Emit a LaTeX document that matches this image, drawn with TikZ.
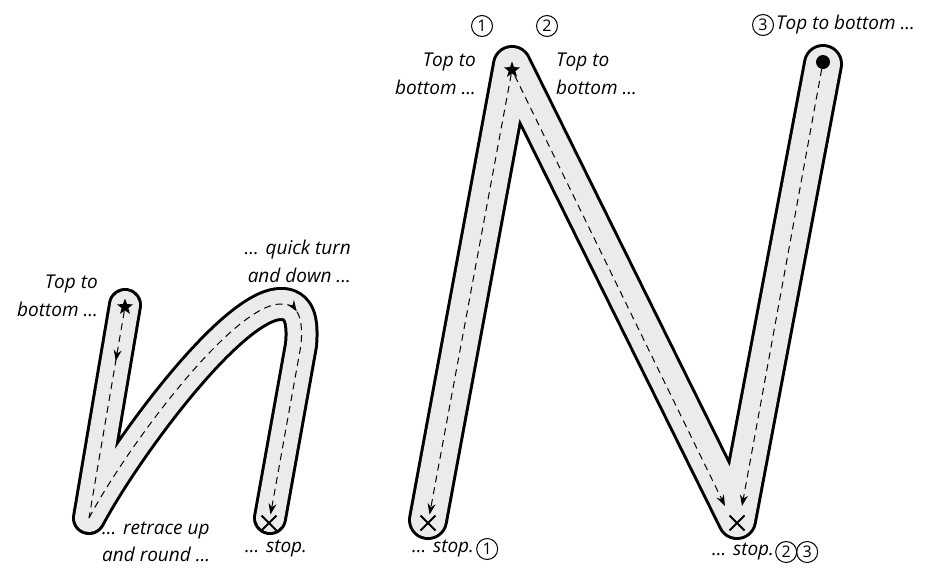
\documentclass[tikz,border=0pt]{standalone}
\usepackage{fontspec}
\setmainfont{Open Sans}
\usetikzlibrary{positioning,arrows.meta,shapes.geometric,shapes.misc,decorations.markings}
\definecolor{tracegray}{HTML}{EBEBEB}

\begin{document}
\begin{tikzpicture}[x=1pt, y=-1pt,
    lbl/.style={font=\fontsize{19}{28}\selectfont\itshape, inner sep=1pt},
    numcirc/.style={circle, draw, line width=1pt, minimum size=21pt, inner sep=0pt,
      font=\fontsize{16}{16}\selectfont},
    guide/.style={line width=1pt, dash pattern=on 7pt off 5pt},
    endtip/.style={-{Stealth[length=11pt, width=8pt]}},
    midtip/.style={postaction={decorate}, decoration={markings,
      mark=at position #1 with {\arrow{Stealth[length=11pt, width=8pt]}}}},
    startstar/.style={star, star points=5, star point ratio=2.4, fill, inner sep=0pt, minimum size=17pt},
    startdot/.style={circle, fill, inner sep=0pt, minimum size=14pt},
    stopcross/.style={cross out, draw, line width=2pt, inner sep=0pt, minimum size=13pt},
  ]
  \useasboundingbox (0,0) rectangle (936,568);

  % small n
  \coordinate (nTop) at (125,305);
  \coordinate (nBot) at (89,518);
  \coordinate (nArc) at (283,304);
  \coordinate (nEnd) at (270,518);
  \foreach \col/\wd in {black/34, tracegray/28} {
    \draw[color=\col, line width=\wd pt, line cap=round, line join=round]
      (nTop) -- (nBot) .. controls (125,450) and (235,300) .. (nArc)
      .. controls (300,305) and (303,322) .. (301,345) -- (nEnd);
  }

  % capital N
  \coordinate (peak) at (512,65);
  \coordinate (botL) at (428,520);
  \coordinate (botR) at (737,520);
  \coordinate (topR) at (823,64);
  \foreach \col/\wd in {black/40, tracegray/34} {
    \draw[color=\col, line width=\wd pt, line cap=round, line join=round]
      (peak) -- (botL) (peak) -- (botR) (topR) -- (botR);
  }

  % start and stop marks
  \node[startstar] (nStar) at (125,307) {};
  \node[stopcross] (nCross) at (269,523) {};
  \node[startstar] (peakStar) at (512,70) {};
  \node[startdot] (topDot) at (823,62) {};
  \node[stopcross] (crossL) at (428,523) {};
  \node[stopcross] (crossR) at (737,523) {};
  \coordinate (diagEnd) at (725,506);
  \coordinate (rightEnd) at (742,506);

  % traced guides
  \draw[guide, midtip=0.24] (nStar) -- (nBot);
  \draw[guide, midtip=0.6, endtip, shorten >=1pt] (nBot) .. controls (125,450) and (235,300) .. (nArc)
    .. controls (300,305) and (303,322) .. (301,345) -- (nCross);
  \draw[guide, endtip, shorten >=1pt] (peakStar) -- (crossL);
  \draw[guide, endtip] (peakStar) -- (diagEnd);
  \draw[guide, endtip] (topDot) -- (rightEnd);

  % labels for n
  \node[lbl, align=right, anchor=east] (nStartLbl) at (99,296) {Top to\\bottom ...};
  \node[lbl, align=right, anchor=east] (nTurnLbl) at (352,261) {... quick turn\\and down ...};
  \node[lbl, align=left, anchor=west, font=\fontsize{19}{27}\selectfont\itshape] (nRetraceLbl) at (101,542) {... retrace up\\and round ...};
  \node[lbl, anchor=west] (nStopLbl) at (244,549) {... stop.};

  % labels for N
  \node[numcirc] (numOne) at (482,26) {1};
  \node[numcirc] (numTwo) at (547,26) {2};
  \node[lbl, align=right, anchor=east] (leftLbl) at (477,74) {Top to\\bottom ...};
  \node[lbl, align=left, anchor=west] (diagLbl) at (555,74) {Top to\\bottom ...};
  \node[numcirc] (numThree) at (763,25) {3};
  \node[lbl, right=1pt of numThree] (rightLbl) {Top to bottom ...};
  \node[lbl, anchor=west] (stopL) at (411,549) {... stop.};
  \node[numcirc, right=1pt of stopL] (stopLnum) {1};
  \node[lbl, anchor=west] (stopR) at (711,552) {... stop.};
  \node[numcirc, right=0pt of stopR] (stopRtwo) {2};
  \node[numcirc, right=-1pt of stopRtwo] (stopRthree) {3};
\end{tikzpicture}
\end{document}
